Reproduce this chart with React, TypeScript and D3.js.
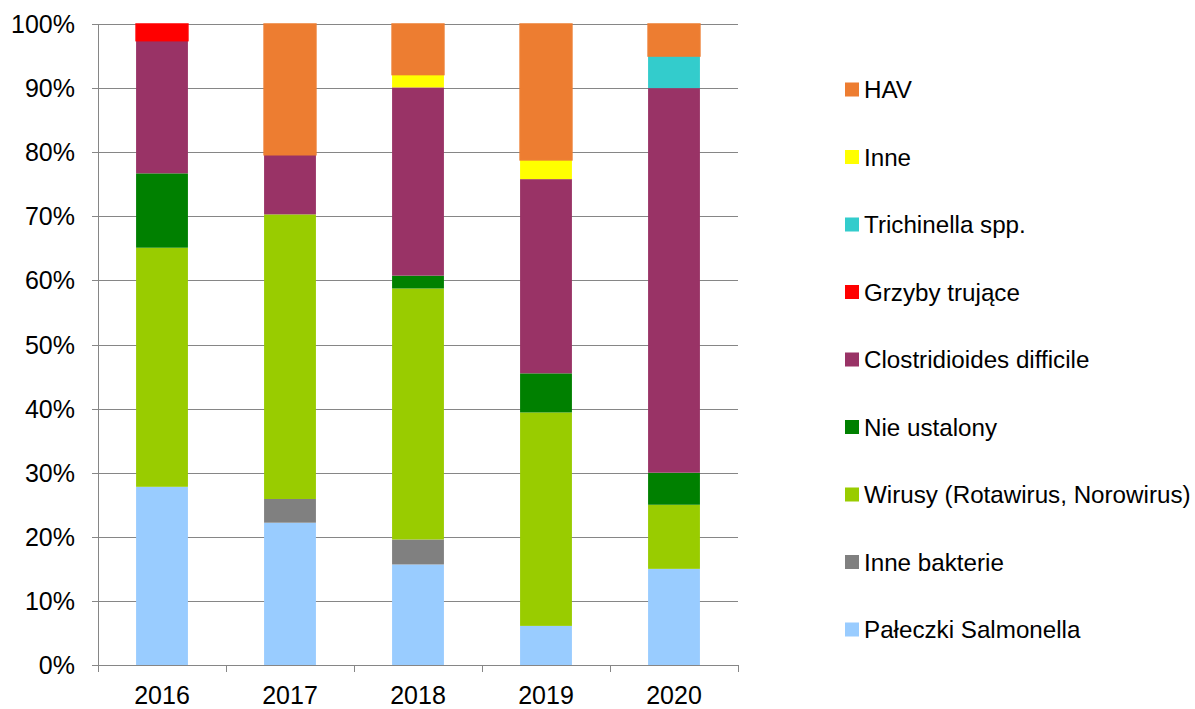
import React from "react";
import * as d3 from "d3";

const years = ["2016", "2017", "2018", "2019", "2020"];
const seriesNames = [
  "Pałeczki Salmonella",
  "Inne bakterie",
  "Wirusy (Rotawirus, Norowirus)",
  "Nie ustalony",
  "Clostridioides difficile",
  "Grzyby trujące",
  "Trichinella spp.",
  "Inne",
  "HAV",
];
const seriesColors = [
  "#99CCFF",
  "#808080",
  "#99CC00",
  "#008000",
  "#993366",
  "#FF0000",
  "#33CCCC",
  "#FFFF00",
  "#ED7D31",
];
// percent values per series, in years order
const salmonella = [27.8, 22.2, 15.7, 6.1, 15];
const inneBakterie = [0, 3.7, 3.9, 0, 0];
const wirusy = [37.3, 44.4, 39.2, 33.3, 10];
const nieUstalony = [11.6, 0, 2.0, 6.1, 5];
const clostridioides = [20.7, 9.3, 29.4, 30.3, 60];
const grzyby = [2.6, 0, 0, 0, 0];
const trichinella = [0, 0, 0, 0, 5];
const inne = [0, 0, 2.0, 3.0, 0];
const hav = [0, 20.4, 7.9, 21.2, 5];
const yTicks = [0, 0.1, 0.2, 0.3, 0.4, 0.5, 0.6, 0.7, 0.8, 0.9, 1];

const seriesValues = [salmonella, inneBakterie, wirusy, nieUstalony, clostridioides, grzyby, trichinella, inne, hav];

export default function App() {
  const W = 1195, H = 709;
  const left = 98, right = 738, top = 24, bottom = 665;
  const rows = years.map((y, i) => {
    const r: any = { year: y };
    seriesNames.forEach((s, j) => (r[s] = seriesValues[j][i]));
    return r;
  });
  const stack = d3.stack<any>().keys(seriesNames).offset(d3.stackOffsetExpand);
  const layers = stack(rows);
  const x = d3.scaleBand().domain(years).range([left, right]).padding(0);
  const y = d3.scaleLinear().domain([0, 1]).range([bottom, top]);
  const barW = x.bandwidth() * 0.405;
  const font = "'Liberation Sans', Arial, sans-serif";
  const gridColor = "#868686";
  const fmt = d3.format(".0%");
  const legendTop = 89.5, legendStep = 67.5;
  const legendOrder = seriesNames.map((_, i) => i).reverse();
  const outlined = new Set(["HAV", "Grzyby trujące"]);
  const boundaries = [...years.map((yr) => x(yr)!), right];

  return (
    <svg width={W} height={H} style={{ position: "absolute", left: 0, top: 0, background: "#fff" }} fontFamily={font}>
      {yTicks.map((t) => (
        <g key={t}>
          <line x1={left - 6} x2={right} y1={Math.round(y(t)) + 0.5} y2={Math.round(y(t)) + 0.5} stroke={gridColor} strokeWidth={1} />
          <text x={75} y={y(t)} dy="0.36em" textAnchor="end" fontSize={25} fill="#000">
            {fmt(t)}
          </text>
        </g>
      ))}
      {layers.map((layer, li) => (
        <g key={layer.key} fill={seriesColors[li]}>
          {layer.map((d, i) => {
            const h = y(d[0]) - y(d[1]);
            if (h <= 0.01) return null;
            const cx = x(years[i])! + x.bandwidth() / 2;
            return (
              <rect
                key={i}
                x={cx - barW / 2}
                y={y(d[1])}
                width={barW}
                height={h}
                stroke={outlined.has(layer.key) ? seriesColors[li] : "none"}
                strokeWidth={outlined.has(layer.key) ? 1.5 : 0}
              />
            );
          })}
        </g>
      ))}
      <line x1={left + 0.5} x2={left + 0.5} y1={top} y2={bottom} stroke={gridColor} strokeWidth={1} />
      <line x1={left} x2={right} y1={bottom + 0.5} y2={bottom + 0.5} stroke={gridColor} strokeWidth={1} />
      {boundaries.map((b, i) => (
        <line key={i} x1={b + 0.5} x2={b + 0.5} y1={bottom} y2={bottom + 7} stroke={gridColor} strokeWidth={1} />
      ))}
      {years.map((yr) => (
        <text key={yr} x={x(yr)! + x.bandwidth() / 2} y={704} textAnchor="middle" fontSize={25} fill="#000">
          {yr}
        </text>
      ))}
      {legendOrder.map((si, k) => {
        const cy = legendTop + k * legendStep;
        return (
          <g key={seriesNames[si]}>
            <rect x={845} y={cy - 7} width={14} height={14} fill={seriesColors[si]} />
            <text x={864} y={cy} dy="0.36em" fontSize={24.2} fill="#000">
              {seriesNames[si]}
            </text>
          </g>
        );
      })}
    </svg>
  );
}
